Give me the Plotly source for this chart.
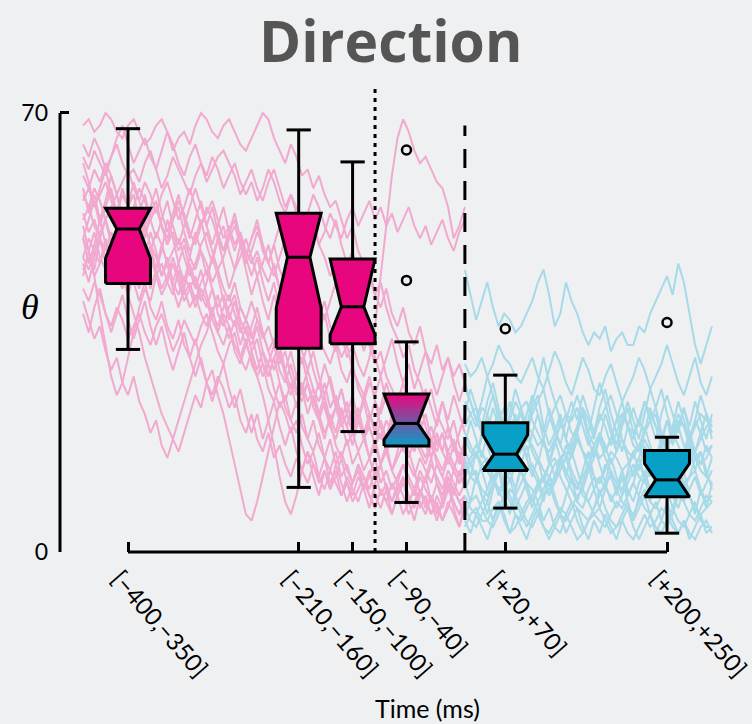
import plotly.graph_objects as go

# ---------------- data ----------------
box_pos = [-375, -185, -125, -65, 45, 225]
box_labels = ["[−400,−350]", "[−210,−160]", "[−150,−100]", "[−90,−40]", "[+20,+70]", "[+200,+250]"]
box_hi = [67.5, 67.3, 62.2, 33.5, 28.2, 18.3]
box_q3 = [54.8, 54.0, 46.7, 25.2, 20.6, 16.2]
notch_hi = [54.8, 54.0, 46.7, 25.2, 18.7, 14.1]
box_med = [51.5, 47.0, 39.1, 20.5, 15.6, 11.5]
notch_lo = [46.8, 38.9, 34.6, 17.9, 13.0, 8.8]
box_q1 = [42.8, 32.5, 33.2, 16.9, 13.0, 8.8]
box_lo = [32.3, 10.3, 19.2, 7.9, 7.0, 3.0]
box_phase = ["pre", "pre", "pre", "mix", "post", "post"]

out_x = [-65, -65, 45, 225]
out_y = [64.1, 43.3, 35.6, 36.6]

event_dotted = -100
event_dashed = 0

y_ticks = [0, 70]

pink_t = [-425, -418.75, -412.5, -406.25, -400, -393.75, -387.5, -381.25, -375, -368.75,
          -362.5, -356.25, -350, -343.75, -337.5, -331.25, -325, -318.75, -312.5, -306.25,
          -300, -293.75, -287.5, -281.25, -275, -268.75, -262.5, -256.25, -250, -243.75,
          -237.5, -231.25, -225, -218.75, -212.5, -206.25, -200, -193.75, -187.5, -181.25,
          -175, -168.75, -162.5, -156.25, -150, -143.75, -137.5, -131.25, -125, -118.75,
          -112.5, -106.25, -100, -93.75, -87.5, -81.25, -75, -68.75, -62.5, -56.25,
          -50, -43.75, -37.5, -31.25, -25, -18.75, -12.5, -6.25, 0]

pink_traces = [
    [68, 69, 67, 68, 70, 69, 67, 66, 68, 69, 67, 65, 66, 68, 69, 67, 64, 66, 67, 65,
     68, 70, 69, 67, 66, 68, 69, 67, 65, 64, 66, 68, 70, 69, 66, 64, 62, 65, 63, 60,
     61, 58, 60, 57, 55, 56, 53, 50, 52, 48, 46, 44, 41, 43, 39, 36, 34, 31, 33, 29,
     27, 24, 26, 22, 20, 18, 21, 17, 15],
    [63, 61, 64, 62, 60, 63, 65, 62, 60, 61, 59, 62, 64, 61, 58, 60, 63, 61, 59, 57,
     60, 62, 59, 61, 63, 64, 62, 60, 57, 59, 61, 58, 56, 59, 61, 58, 55, 57, 54, 52,
     50, 53, 49, 47, 44, 46, 42, 40, 37, 39, 35, 33, 30, 32, 28, 26, 24, 27, 23, 21,
     19, 22, 18, 16, 19, 15, 13, 16, 14],
    [57, 55, 58, 56, 53, 55, 57, 54, 52, 55, 58, 56, 53, 55, 52, 50, 53, 56, 54, 51,
     49, 52, 55, 53, 50, 48, 51, 53, 49, 47, 50, 52, 48, 46, 49, 45, 43, 46, 42, 40,
     43, 39, 37, 40, 36, 34, 31, 33, 29, 27, 25, 28, 24, 22, 25, 21, 19, 22, 18, 20,
     17, 15, 18, 14, 12, 15, 13, 11, 14],
    [52, 48, 44, 38, 33, 28, 25, 27, 31, 35, 39, 42, 40, 44, 46, 43, 41, 45, 42, 39,
     41, 38, 36, 39, 35, 33, 36, 32, 30, 33, 31, 28, 30, 26, 24, 27, 23, 21, 24, 20,
     18, 21, 17, 15, 18, 14, 16, 13, 11, 14, 12, 10, 13, 9, 11, 8, 10, 12, 9, 7,
     10, 8, 6, 9, 7, 10, 8, 6, 9],
    [50, 53, 56, 52, 55, 58, 54, 51, 55, 57, 53, 50, 54, 56, 52, 49, 53, 55, 51, 48,
     50, 53, 49, 46, 50, 52, 48, 45, 47, 50, 47, 44, 46, 49, 45, 42, 44, 40, 43, 39,
     41, 37, 35, 38, 34, 32, 35, 31, 33, 30, 28, 31, 36, 44, 52, 60, 66, 69, 67, 64,
     62, 63, 61, 59, 58, 55, 50, 52, 55],
    [47, 50, 48, 51, 53, 50, 47, 49, 52, 50, 47, 45, 48, 51, 49, 46, 48, 50, 47, 44,
     46, 49, 51, 48, 45, 47, 50, 52, 49, 46, 48, 51, 49, 46, 44, 47, 50, 48, 45, 47,
     50, 52, 49, 51, 54, 52, 50, 53, 55, 52, 54, 56, 53, 55, 52, 54, 51, 53, 55, 52,
     50, 52, 49, 51, 53, 50, 48, 51, 53],
    [45, 47, 44, 46, 49, 46, 43, 45, 48, 44, 42, 45, 47, 44, 41, 43, 46, 43, 40, 42,
     44, 41, 39, 42, 38, 36, 39, 41, 37, 35, 33, 36, 32, 30, 33, 29, 27, 30, 26, 24,
     27, 23, 21, 24, 20, 18, 21, 17, 19, 16, 18, 15, 17, 14, 16, 13, 15, 17, 14, 12,
     15, 13, 11, 14, 12, 10, 13, 11, 12],
    [50, 48, 51, 47, 45, 48, 44, 42, 45, 43, 40, 43, 39, 37, 40, 36, 34, 37, 33, 31,
     34, 30, 27, 29, 25, 22, 18, 14, 10, 6, 5, 8, 12, 16, 20, 24, 22, 19, 21, 17,
     14, 16, 12, 15, 11, 13, 9, 11, 8, 10, 12, 9, 7, 10, 8, 11, 9, 6, 8, 10,
     7, 9, 6, 8, 5, 7, 10, 8, 6],
    [54, 51, 53, 50, 48, 51, 49, 46, 49, 52, 48, 46, 49, 47, 44, 46, 43, 41, 44, 42,
     39, 42, 40, 37, 35, 38, 36, 33, 31, 34, 30, 28, 25, 21, 17, 12, 8, 6, 9, 13,
     16, 14, 11, 13, 10, 12, 15, 11, 9, 12, 10, 13, 9, 7, 10, 8, 11, 9, 6, 8,
     10, 7, 9, 6, 8, 11, 8, 6, 7],
    [42, 40, 43, 41, 38, 36, 39, 37, 34, 36, 38, 35, 33, 36, 38, 35, 32, 34, 37, 35,
     33, 36, 38, 35, 32, 30, 33, 35, 31, 29, 32, 34, 30, 28, 31, 33, 29, 26, 28, 25,
     27, 24, 22, 25, 21, 23, 20, 22, 19, 21, 18, 20, 17, 19, 16, 18, 21, 17, 15, 18,
     16, 14, 17, 15, 13, 16, 14, 12, 15],
    [60, 58, 61, 59, 62, 60, 57, 59, 61, 58, 56, 59, 57, 54, 57, 59, 56, 53, 55, 58,
     55, 52, 54, 56, 53, 50, 52, 49, 51, 48, 46, 48, 45, 43, 46, 42, 40, 43, 39, 37,
     35, 38, 34, 32, 30, 33, 29, 27, 30, 26, 24, 27, 25, 28, 24, 22, 20, 23, 21, 19,
     21, 18, 20, 17, 19, 16, 18, 15, 13],
    [56, 58, 55, 57, 59, 56, 54, 57, 55, 52, 54, 51, 53, 55, 52, 49, 51, 48, 50, 47,
     45, 48, 46, 43, 45, 42, 40, 43, 39, 37, 35, 31, 28, 30, 26, 23, 25, 21, 19, 22,
     18, 16, 19, 15, 13, 16, 12, 14, 11, 13, 10, 12, 15, 11, 13, 10, 12, 14, 11, 9,
     12, 10, 8, 11, 9, 12, 10, 8, 9],
    [40, 37, 34, 36, 32, 29, 31, 27, 25, 28, 24, 22, 19, 21, 17, 15, 18, 16, 19, 22,
     25, 23, 27, 25, 28, 26, 23, 25, 21, 19, 22, 18, 16, 19, 15, 17, 14, 12, 15, 13,
     11, 14, 12, 10, 13, 11, 9, 12, 10, 8, 11, 9, 7, 10, 8, 6, 9, 11, 8, 10,
     8, 6, 9, 7, 5, 8, 6, 4, 7],
    [47, 45, 48, 46, 50, 47, 44, 46, 49, 46, 43, 46, 48, 45, 42, 44, 47, 44, 41, 43,
     40, 43, 45, 42, 39, 41, 38, 36, 39, 37, 34, 37, 35, 32, 34, 31, 29, 32, 28, 26,
     29, 26, 24, 27, 23, 25, 22, 20, 23, 21, 19, 22, 20, 18, 21, 19, 17, 20, 18, 16,
     19, 17, 15, 18, 16, 14, 17, 15, 13],
    [53, 55, 52, 50, 53, 49, 47, 44, 41, 38, 35, 31, 28, 25, 22, 20, 18, 21, 24, 27,
     30, 33, 35, 38, 36, 39, 41, 38, 35, 37, 40, 37, 34, 36, 33, 30, 32, 28, 25, 27,
     24, 26, 22, 19, 21, 17, 15, 18, 14, 16, 13, 15, 12, 14, 17, 13, 11, 14, 12, 10,
     13, 11, 14, 12, 10, 13, 11, 9, 11],
    [65, 63, 66, 64, 61, 63, 66, 68, 65, 62, 64, 66, 63, 61, 64, 67, 65, 62, 60, 63,
     65, 62, 60, 63, 61, 58, 60, 62, 59, 57, 59, 56, 58, 61, 59, 56, 54, 57, 55, 52,
     54, 57, 55, 52, 50, 53, 49, 46, 48, 44, 42, 45, 41, 39, 42, 38, 36, 39, 35, 33,
     36, 32, 30, 33, 29, 31, 28, 30, 27],
    [44, 48, 45, 50, 47, 43, 46, 51, 48, 44, 47, 52, 49, 45, 48, 53, 50, 46, 43, 47,
     51, 48, 44, 47, 50, 46, 42, 45, 49, 45, 41, 44, 40, 37, 41, 38, 34, 37, 33, 30,
     33, 29, 26, 30, 27, 23, 26, 22, 25, 21, 24, 20, 17, 21, 18, 22, 19, 16, 20, 17,
     21, 18, 15, 19, 16, 20, 17, 14, 18],
    [58, 54, 57, 53, 56, 60, 57, 53, 55, 59, 56, 52, 55, 58, 54, 51, 54, 57, 53, 50,
     53, 56, 52, 49, 52, 55, 51, 48, 51, 47, 44, 47, 43, 40, 43, 39, 36, 39, 35, 32,
     29, 32, 28, 25, 28, 24, 21, 24, 20, 23, 19, 15, 18, 14, 17, 13, 16, 20, 16, 13,
     9, 12, 15, 11, 8, 12, 9, 13, 10],
    [50, 46, 49, 53, 49, 46, 50, 54, 51, 47, 50, 47, 51, 48, 44, 47, 43, 46, 49, 45,
     42, 45, 41, 38, 41, 37, 34, 37, 33, 36, 32, 29, 32, 28, 31, 27, 24, 27, 23, 26,
     22, 25, 21, 18, 22, 19, 23, 20, 17, 21, 25, 22, 19, 23, 27, 24, 21, 25, 22, 18,
     22, 26, 23, 20, 24, 21, 25, 22, 19],
    [62, 59, 55, 58, 61, 57, 54, 58, 55, 51, 54, 57, 53, 50, 53, 56, 52, 49, 52, 55,
     58, 55, 52, 55, 51, 48, 51, 54, 50, 47, 50, 53, 49, 46, 49, 52, 48, 45, 48, 44,
     41, 44, 40, 37, 40, 43, 39, 36, 33, 36, 32, 35, 31, 28, 31, 34, 30, 27, 30, 26,
     29, 32, 28, 25, 28, 31, 27, 24, 27],
    [38, 35, 39, 42, 38, 35, 38, 41, 37, 34, 37, 40, 36, 33, 36, 32, 29, 32, 35, 31,
     28, 31, 27, 24, 27, 30, 26, 23, 26, 22, 19, 22, 18, 21, 24, 20, 17, 20, 16, 13,
     16, 12, 9, 13, 10, 14, 11, 8, 11, 14, 10, 7, 11, 14, 10, 6, 9, 12, 8, 5,
     9, 12, 8, 5, 8, 11, 7, 4, 8],
    [46, 43, 47, 50, 46, 43, 47, 44, 41, 44, 48, 45, 42, 45, 49, 46, 42, 39, 42, 46,
     43, 40, 43, 47, 44, 40, 37, 40, 36, 33, 36, 39, 35, 32, 29, 32, 28, 25, 28, 31,
     27, 24, 27, 23, 20, 23, 26, 22, 19, 22, 18, 21, 24, 20, 17, 21, 25, 22, 18, 21,
     24, 20, 17, 21, 24, 20, 16, 19, 22],
]

blue_t = [0, 6.25, 12.5, 18.75, 25, 31.25, 37.5, 43.75, 50, 56.25,
          62.5, 68.75, 75, 81.25, 87.5, 93.75, 100, 106.25, 112.5, 118.75,
          125, 131.25, 137.5, 143.75, 150, 156.25, 162.5, 168.75, 175, 181.25,
          187.5, 193.75, 200, 206.25, 212.5, 218.75, 225, 231.25, 237.5, 243.75,
          250, 256.25, 262.5, 268.75, 275]

blue_traces = [
    [45, 41, 37, 40, 43, 39, 36, 38, 37, 35, 36, 38, 40, 43, 45, 41, 36, 38, 43, 40,
     38, 35, 33, 35, 34, 36, 32, 34, 35, 33, 33, 36, 35, 38, 40, 42, 44, 41, 46, 43,
     38, 33, 30, 33, 36],
    [30, 28, 29, 31, 28, 30, 33, 31, 30, 28, 27, 29, 31, 28, 26, 29, 32, 30, 27, 25,
     28, 31, 29, 26, 25, 28, 30, 27, 24, 26, 28, 31, 29, 26, 28, 30, 33, 30, 27, 25,
     28, 31, 27, 25, 28],
    [24, 22, 20, 23, 22, 18, 21, 23, 17, 20, 22, 19, 23, 25, 20, 17, 19, 22, 18, 16,
     20, 23, 21, 18, 22, 20, 17, 19, 22, 20, 18, 21, 19, 23, 20, 17, 21, 19, 22, 20,
     17, 21, 19, 22, 20],
    [18, 16, 15, 19, 21, 17, 14, 13, 16, 19, 17, 20, 16, 14, 18, 15, 12, 14, 17, 15,
     18, 16, 13, 15, 19, 17, 14, 16, 18, 15, 12, 15, 18, 16, 13, 15, 17, 14, 12, 16,
     19, 16, 14, 17, 15],
    [14, 12, 11, 14, 15, 12, 9, 11, 13, 10, 14, 17, 13, 11, 12, 9, 11, 13, 15, 12,
     10, 13, 16, 12, 11, 14, 12, 10, 13, 9, 11, 14, 12, 15, 13, 10, 12, 15, 11, 8,
     10, 12, 9, 11, 13],
    [10, 12, 13, 9, 8, 11, 14, 11, 9, 7, 9, 11, 8, 10, 12, 9, 12, 15, 12, 10,
     8, 7, 10, 12, 9, 11, 8, 10, 13, 10, 8, 11, 13, 10, 12, 14, 11, 9, 7, 10,
     12, 13, 10, 8, 9],
    [7, 5, 4, 6, 8, 5, 7, 9, 12, 8, 6, 4, 6, 8, 5, 7, 4, 3, 6, 8,
     5, 3, 5, 7, 10, 7, 5, 4, 6, 8, 5, 7, 9, 6, 4, 3, 5, 7, 5, 4,
     6, 8, 5, 4, 4],
    [20, 22, 23, 19, 17, 14, 16, 18, 21, 20, 23, 24, 21, 19, 17, 16, 18, 20, 22, 21,
     23, 20, 17, 19, 21, 23, 25, 22, 18, 16, 15, 17, 19, 21, 22, 18, 17, 19, 20, 17,
     14, 16, 18, 20, 21],
    [12, 14, 16, 14, 13, 11, 10, 8, 7, 9, 11, 13, 14, 12, 9, 10, 12, 15, 16, 13,
     11, 9, 8, 10, 12, 10, 9, 7, 9, 11, 13, 15, 12, 10, 11, 13, 10, 12, 14, 11,
     12, 15, 16, 13, 10],
    [4, 6, 7, 5, 5, 7, 8, 6, 3, 4, 6, 8, 9, 6, 4, 3, 5, 7, 6, 4,
     2, 3, 5, 6, 7, 5, 3, 4, 5, 3, 2, 4, 6, 4, 5, 7, 6, 4, 3, 5,
     3, 2, 4, 5, 3],
    [16, 14, 12, 10, 9, 11, 13, 15, 17, 15, 13, 11, 10, 8, 10, 12, 14, 15, 13, 11,
     10, 12, 14, 16, 18, 15, 13, 11, 10, 12, 14, 12, 11, 13, 15, 17, 14, 12, 13, 15,
     18, 15, 13, 12, 11],
    [26, 24, 21, 19, 18, 20, 22, 19, 21, 24, 22, 20, 19, 17, 18, 21, 23, 25, 22, 19,
     18, 16, 15, 17, 19, 16, 18, 21, 22, 20, 19, 21, 24, 22, 20, 19, 17, 18, 21, 20,
     18, 20, 22, 21, 20],
    [9, 7, 6, 8, 10, 12, 13, 10, 8, 6, 5, 7, 9, 11, 12, 14, 15, 12, 10, 8,
     7, 6, 5, 7, 9, 11, 12, 10, 8, 7, 6, 8, 10, 8, 7, 9, 11, 12, 13, 11,
     9, 7, 6, 7, 8],
    [13, 15, 17, 16, 14, 12, 10, 11, 13, 15, 16, 18, 17, 15, 13, 12, 11, 14, 15, 17,
     19, 16, 14, 12, 11, 13, 16, 15, 13, 14, 16, 17, 14, 12, 15, 18, 16, 14, 13, 15,
     17, 15, 14, 15, 17],
    [19, 17, 15, 18, 22, 25, 21, 18, 16, 14, 17, 19, 22, 24, 26, 22, 19, 17, 15, 18,
     20, 23, 19, 17, 15, 16, 18, 21, 24, 20, 17, 16, 19, 21, 23, 26, 22, 19, 17, 15,
     18, 21, 19, 16, 17],
    [6, 8, 9, 7, 5, 4, 6, 8, 10, 9, 7, 5, 4, 6, 9, 11, 8, 6, 5, 7,
     9, 10, 8, 6, 5, 4, 6, 8, 7, 9, 11, 9, 7, 6, 8, 5, 4, 6, 9, 8,
     6, 5, 7, 9, 8],
    [17, 21, 18, 15, 19, 23, 20, 16, 19, 22, 18, 15, 19, 22, 18, 14, 17, 21, 18, 15,
     19, 22, 18, 15, 18, 22, 19, 16, 20, 23, 19, 16, 20, 17, 14, 18, 21, 17, 20, 23,
     19, 16, 19, 22, 18],
    [11, 8, 12, 9, 6, 10, 13, 9, 6, 10, 13, 10, 7, 11, 8, 12, 9, 6, 9, 12,
     8, 11, 14, 10, 7, 10, 13, 9, 12, 8, 5, 9, 12, 8, 11, 14, 10, 7, 10, 13,
     9, 6, 10, 7, 11],
    [22, 26, 23, 20, 24, 27, 23, 20, 24, 21, 18, 22, 25, 22, 19, 23, 20, 17, 21, 24,
     21, 25, 22, 19, 23, 26, 22, 19, 16, 20, 23, 20, 24, 21, 18, 22, 25, 22, 19, 23,
     20, 24, 21, 18, 22],
    [5, 3, 6, 4, 2, 5, 8, 5, 3, 6, 4, 2, 5, 7, 4, 2, 4, 6, 3, 5,
     7, 4, 2, 5, 3, 6, 4, 2, 5, 7, 4, 2, 4, 6, 3, 5, 8, 5, 3, 5,
     2, 4, 6, 3, 4],
    [15, 12, 16, 13, 10, 13, 17, 14, 11, 14, 18, 15, 12, 15, 11, 14, 18, 15, 12, 16,
     13, 10, 13, 17, 14, 11, 15, 12, 9, 13, 16, 13, 17, 14, 11, 15, 18, 14, 11, 14,
     17, 13, 16, 12, 15],
    [27, 24, 21, 24, 28, 25, 22, 19, 22, 26, 23, 20, 24, 27, 31, 27, 24, 21, 18, 22,
     25, 22, 19, 23, 27, 24, 20, 17, 21, 24, 21, 18, 22, 26, 23, 19, 16, 20, 24, 21,
     18, 21, 25, 22, 19],
]

for tr in pink_traces:
    assert len(tr) == len(pink_t), len(tr)
for tr in blue_traces:
    assert len(tr) == len(blue_t), len(tr)

# ---------------- style ----------------
BG = "#eff0f2"
PINK_LINE = "#f1a9cf"
BLUE_LINE = "#a7dae8"
MAGENTA = (232, 6, 127)
TEAL = (8, 160, 198)
BOX_HALF = 25.0
NOTCH_HALF = 12.5
CAP_HALF = 13.5
LW = 3

fig = go.Figure()

for tr in pink_traces:
    fig.add_trace(go.Scatter(x=pink_t, y=tr, mode="lines",
                             line=dict(color=PINK_LINE, width=2), hoverinfo="skip"))
for tr in blue_traces:
    fig.add_trace(go.Scatter(x=blue_t, y=tr, mode="lines",
                             line=dict(color=BLUE_LINE, width=2), hoverinfo="skip"))

# event lines
fig.add_trace(go.Scatter(x=[event_dotted, event_dotted], y=[0, 74.5], mode="lines",
                         line=dict(color="black", width=3, dash="4px,5px"), hoverinfo="skip"))
fig.add_trace(go.Scatter(x=[event_dashed, event_dashed], y=[0, 68.0], mode="lines",
                         line=dict(color="black", width=3, dash="19px,13px"), hoverinfo="skip"))


def rgb(c):
    return "rgb(%d,%d,%d)" % c


def mix(a, b, t):
    return tuple(int(round(a[k] + (b[k] - a[k]) * t)) for k in range(3))


def half_width(y, med, nlo, nhi):
    if y >= nhi or y <= nlo:
        return BOX_HALF
    if y >= med:
        return NOTCH_HALF + (BOX_HALF - NOTCH_HALF) * (y - med) / max(nhi - med, 1e-9)
    return NOTCH_HALF + (BOX_HALF - NOTCH_HALF) * (med - y) / max(med - nlo, 1e-9)


def outline(x, q1, med, q3, nlo, nhi):
    xs = [x - BOX_HALF, x - BOX_HALF, x - NOTCH_HALF, x - BOX_HALF, x - BOX_HALF,
          x + BOX_HALF, x + BOX_HALF, x + NOTCH_HALF, x + BOX_HALF, x + BOX_HALF, x - BOX_HALF]
    ys = [q1, nlo, med, nhi, q3, q3, nhi, med, nlo, q1, q1]
    return xs, ys


for i, x in enumerate(box_pos):
    q1, med, q3 = box_q1[i], box_med[i], box_q3[i]
    nlo, nhi = notch_lo[i], notch_hi[i]
    fig.add_trace(go.Scatter(x=[x, x, None, x, x], y=[q3, box_hi[i], None, q1, box_lo[i]],
                             mode="lines", line=dict(color="black", width=LW), hoverinfo="skip"))
    fig.add_trace(go.Scatter(x=[x - CAP_HALF, x + CAP_HALF, None, x - CAP_HALF, x + CAP_HALF],
                             y=[box_hi[i], box_hi[i], None, box_lo[i], box_lo[i]],
                             mode="lines", line=dict(color="black", width=LW), hoverinfo="skip"))
    xs, ys = outline(x, q1, med, q3, nlo, nhi)
    if box_phase[i] == "mix":
        n = 40
        levels = sorted(set([q1 + (q3 - q1) * k / n for k in range(n + 1)] + [nlo, med, nhi]))
        for a, b in zip(levels[:-1], levels[1:]):
            t = ((a + b) / 2 - q1) / (q3 - q1)
            col = rgb(mix(TEAL, MAGENTA, t))
            wa = half_width(a, med, nlo, nhi)
            wb = half_width(b, med, nlo, nhi)
            fig.add_trace(go.Scatter(x=[x - wa, x + wa, x + wb, x - wb, x - wa], y=[a, a, b, b, a],
                                     mode="lines", fill="toself", fillcolor=col,
                                     line=dict(color=col, width=1), hoverinfo="skip"))
        fig.add_trace(go.Scatter(x=xs, y=ys, mode="lines", line=dict(color="black", width=LW),
                                 hoverinfo="skip"))
    else:
        col = rgb(MAGENTA if box_phase[i] == "pre" else TEAL)
        fig.add_trace(go.Scatter(x=xs, y=ys, mode="lines", fill="toself", fillcolor=col,
                                 line=dict(color="black", width=LW), hoverinfo="skip"))
    fig.add_trace(go.Scatter(x=[x - NOTCH_HALF, x + NOTCH_HALF], y=[med, med], mode="lines",
                             line=dict(color="black", width=LW), hoverinfo="skip"))

fig.add_trace(go.Scatter(x=out_x, y=out_y, mode="markers",
                         marker=dict(symbol="circle-open", size=9, color="black", line=dict(width=2.5)),
                         hoverinfo="skip"))

# axis lines (only across the data span)
fig.add_shape(type="line", xref="paper", yref="y", x0=0, x1=0, y0=y_ticks[0], y1=y_ticks[-1],
              line=dict(color="black", width=3))
fig.add_shape(type="line", xref="x", yref="paper", x0=box_pos[0], x1=box_pos[-1], y0=0, y1=0,
              line=dict(color="black", width=3))

fig.update_layout(
    width=752, height=724,
    margin=dict(l=60, r=0, t=80, b=172),
    paper_bgcolor=BG, plot_bgcolor=BG,
    showlegend=False,
    xaxis=dict(range=[-450.7, 319.6], showgrid=False, zeroline=False, showline=False,
               automargin=False,
               tickvals=box_pos, ticktext=box_labels, tickangle=49,
               ticks="inside", ticklen=10, tickwidth=3, tickcolor="black",
               ticklabeloverflow="allow", ticklabelstandoff=7, ticklabelshift=-9,
               tickfont=dict(family="Lato", size=24, color="black")),
    yaxis=dict(range=[0, 75.26], showgrid=False, zeroline=False, showline=False,
               automargin=False,
               tickvals=y_ticks, ticktext=[str(v) for v in y_ticks],
               ticks="inside", ticklen=9, tickwidth=3, tickcolor="black",
               tickfont=dict(family="Lato", size=23, color="black"), ticklabelstandoff=11),
)

fig.add_annotation(text="<b>Direction</b>", xref="paper", yref="paper",
                   x=(390 - 60) / 692, y=1 + (80 - 40) / 472, showarrow=False,
                   xanchor="center", yanchor="middle",
                   font=dict(family="Open Sans", size=57, color="#555555"))
fig.add_annotation(text="Time (ms)", xref="paper", yref="paper",
                   x=(428 - 60) / 692, y=-(708 - 552) / 472, showarrow=False,
                   xanchor="center", yanchor="middle",
                   font=dict(family="Lato", size=25, color="black"))
fig.add_annotation(text="<i>θ</i>", xref="paper", yref="y", x=-(60 - 30) / 692, y=39, showarrow=False,
                   font=dict(family="Liberation Serif", size=36, color="black"),
                   xanchor="center", yanchor="middle")

fig.write_html("out.html")
